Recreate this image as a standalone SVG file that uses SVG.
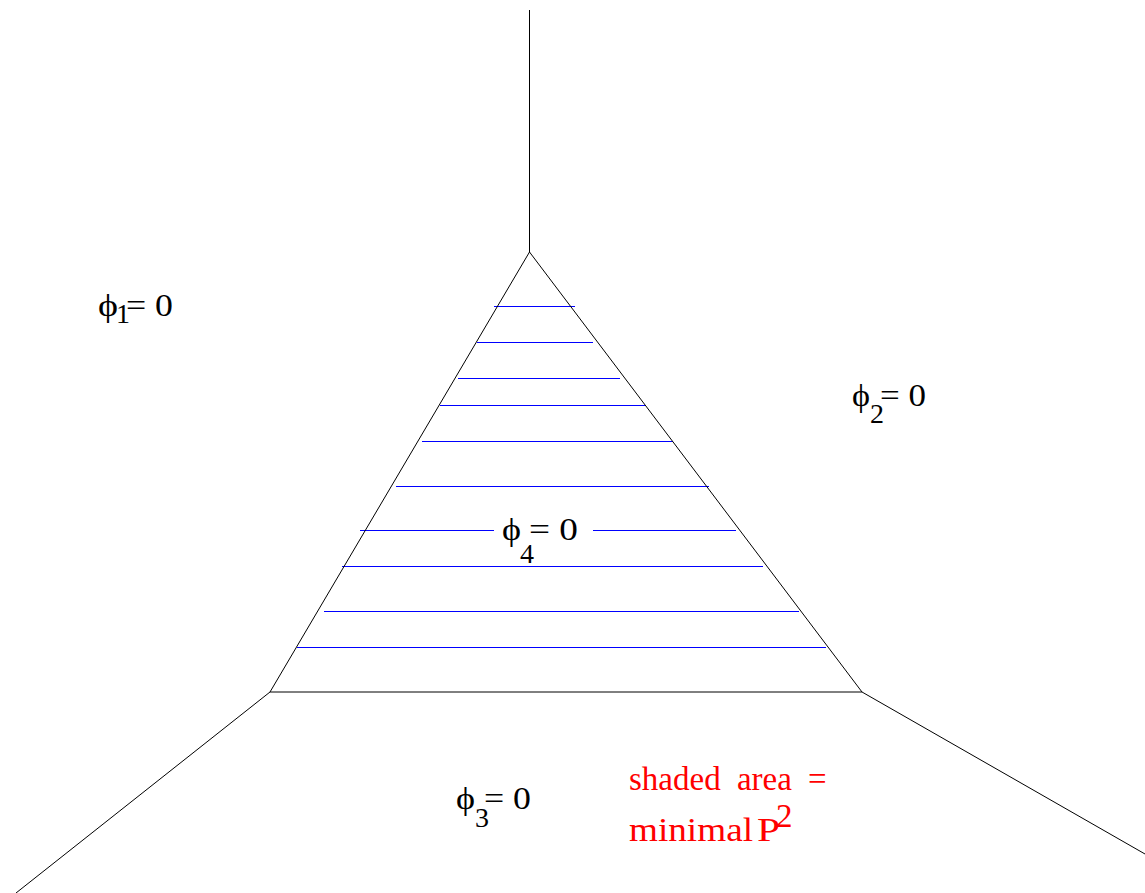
<svg xmlns="http://www.w3.org/2000/svg" width="1145" height="893" viewBox="0 0 1145 893">
<style>
.edge{stroke:#000;stroke-width:1;fill:none}
.hatch{stroke:#0000ff;stroke-width:1;fill:none}
.t{font-family:"Liberation Serif","Times New Roman",serif;font-size:32px;fill:#000}
.sub{font-family:"Liberation Serif","Times New Roman",serif;font-size:28px;fill:#000}
.red{font-family:"Liberation Serif","Times New Roman",serif;font-size:33px;fill:#ff0000}
</style>
<rect width="1145" height="893" fill="#fff"/>
<g id="hatching">
<line class="hatch" x1="494" y1="306.5" x2="575" y2="306.5"/>
<line class="hatch" x1="477" y1="342.5" x2="593" y2="342.5"/>
<line class="hatch" x1="458" y1="378.5" x2="620" y2="378.5"/>
<line class="hatch" x1="440" y1="405.5" x2="646" y2="405.5"/>
<line class="hatch" x1="422" y1="441.5" x2="673" y2="441.5"/>
<line class="hatch" x1="396" y1="486.5" x2="709" y2="486.5"/>
<line class="hatch" x1="360" y1="530.5" x2="494" y2="530.5"/>
<line class="hatch" x1="593" y1="530.5" x2="736" y2="530.5"/>
<line class="hatch" x1="342" y1="566.5" x2="763" y2="566.5"/>
<line class="hatch" x1="324" y1="611.5" x2="799" y2="611.5"/>
<line class="hatch" x1="297" y1="647.5" x2="826" y2="647.5"/>
</g>
<g id="connectors">
<line class="edge" x1="529.5" y1="10" x2="529.5" y2="252"/>
<polygon class="edge" points="529.5,252 270,692 862,692"/>
<line class="edge" x1="270" y1="692" x2="16" y2="893"/>
<line class="edge" x1="862" y1="692" x2="1145" y2="854"/>
</g>
<g id="phi1">
<text class="t" x="98" y="316" textLength="20" lengthAdjust="spacingAndGlyphs">ϕ</text>
<text class="sub" x="116" y="323">1</text>
<text class="t" x="126" y="316" textLength="47" lengthAdjust="spacingAndGlyphs">= 0</text>
</g>
<g id="phi2">
<text class="t" x="852" y="406" textLength="18" lengthAdjust="spacingAndGlyphs">ϕ</text>
<text class="sub" x="870" y="423">2</text>
<text class="t" x="880" y="406" textLength="46" lengthAdjust="spacingAndGlyphs">= 0</text>
</g>
<g id="phi3">
<text class="t" x="456" y="809" textLength="19" lengthAdjust="spacingAndGlyphs">ϕ</text>
<text class="sub" x="475" y="827">3</text>
<text class="t" x="484" y="809" textLength="47" lengthAdjust="spacingAndGlyphs">= 0</text>
</g>
<g id="phi4">
<text class="t" x="502" y="540" textLength="19" lengthAdjust="spacingAndGlyphs">ϕ</text>
<text class="sub" x="520" y="563">4</text>
<text class="t" x="529" y="540" textLength="49" lengthAdjust="spacingAndGlyphs">= 0</text>
</g>
<g id="note">
<text class="red" x="629" y="790" word-spacing="8">shaded area =</text>
<text class="red" x="629" y="841" textLength="124" lengthAdjust="spacingAndGlyphs">minimal</text>
<text class="red" x="757" y="841" textLength="23" lengthAdjust="spacingAndGlyphs">P</text>
<text class="red" x="776" y="827" font-size="19">2</text>
</g>
</svg>
